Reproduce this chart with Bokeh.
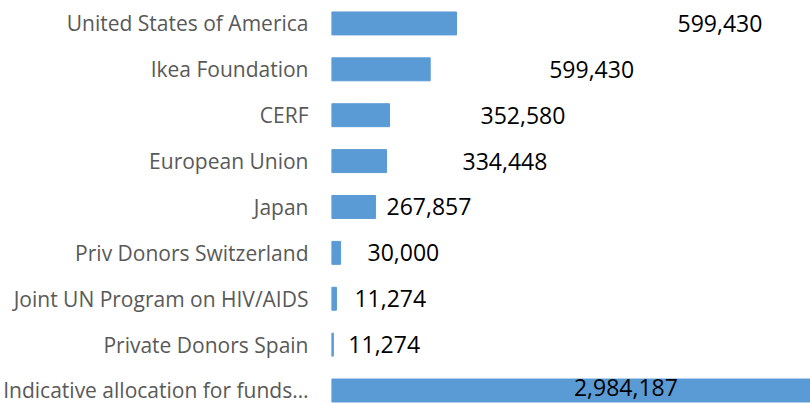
from bokeh.plotting import figure
from bokeh.models import ColumnDataSource, Range1d
from bokeh.core.properties import value
from bokeh.embed import file_html
from bokeh.resources import INLINE

# Data (top to bottom as shown)
categories = [
    "United States of America",
    "Ikea Foundation",
    "CERF",
    "European Union",
    "Japan",
    "Priv Donors Switzerland",
    "Joint UN Program on HIV/AIDS",
    "Private Donors Spain",
    "Indicative allocation for funds\u2026",
]
bar_values = [760000, 600000, 352580, 334448, 267857, 55000, 30000, 11274, 2984187]
label_texts = ["599,430", "599,430", "352,580", "334,448", "267,857",
               "30,000", "11,274", "11,274", "2,984,187"]

# style: pixel offsets of the value labels from the bar end (as drawn in the reference)
label_offsets = [221, 119, 91, 76, 11, 27, 18, 15]

n = len(categories)
ys = [n - 1 - i for i in range(n)]

p = figure(width=810, height=403, output_backend="svg", toolbar_location=None,
           x_range=Range1d(0, 2912000), y_range=Range1d(-0.283, n - 1 + 0.5),
           min_border_left=331, min_border_right=0, min_border_top=0, min_border_bottom=0)

src = ColumnDataSource(dict(y=ys, v=bar_values))
p.hbar(y="y", left=0, right="v", height=0.5, source=src, color="#5B9BD5")

# regular labels: left aligned after bar end
main = ColumnDataSource(dict(y=ys[:-1], lx=bar_values[:-1], lab=label_texts[:-1], off=label_offsets))
p.text(x="lx", y="y", text="lab", x_offset="off", source=main,
       text_font=value("Open Sans"), text_font_size="23px", text_color="#000000",
       text_align="left", text_baseline="middle")
# last label inside the long bar
last = ColumnDataSource(dict(y=[ys[-1]], x=[bar_values[-1] / 2], lab=[label_texts[-1]]))
p.text(x="x", y="y", text="lab", source=last, x_offset=49, y_offset=-3,
       text_font=value("Open Sans"), text_font_size="23px", text_color="#000000",
       text_align="center", text_baseline="middle")

p.xaxis.visible = False
p.yaxis.ticker = ys
p.yaxis.major_label_overrides = {y: c for y, c in zip(ys, categories)}
p.yaxis.axis_line_color = None
p.yaxis.major_tick_line_color = None
p.yaxis.minor_tick_line_color = None
p.yaxis.major_tick_out = 0
p.yaxis.major_tick_in = 0
p.yaxis.major_label_standoff = 23
p.yaxis.major_label_text_font = "Open Sans"
p.yaxis.major_label_text_font_size = "21px"
p.yaxis.major_label_text_color = "#595959"
p.grid.visible = False
p.outline_line_color = None
p.background_fill_color = "white"
p.border_fill_color = "white"

open("out.html", "w").write(file_html(p, INLINE))
